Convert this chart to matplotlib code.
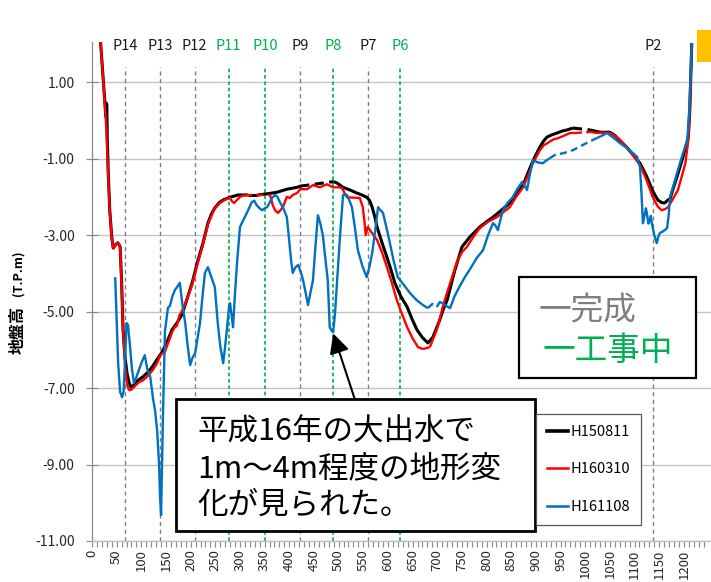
import numpy as np
import matplotlib
matplotlib.use("Agg")
import matplotlib.pyplot as plt
from matplotlib.patches import Rectangle
from matplotlib.lines import Line2D

plt.rcParams['font.family'] = ['Noto Sans CJK JP', 'DejaVu Sans']

# ---- survey profiles: distance (m) vs ground elevation (T.P.m) ----
black_x = [16, 22, 26, 28, 29, 30, 31, 33, 36, 40, 43, 48, 52, 55, 57, 60, 63, 67, 71, 75,
           79, 83, 87, 95, 103, 112, 122, 132, 142, 152, 162, 172, 182, 192, 203, 214, 225,
           235, 242, 249, 258, 266, 280, 296, 310, 316, 336, 355, 375, 395, 416, 422, 490,
           497, 509, 523, 537, 547, 557, 563, 568, 573, 578, 588, 598, 606, 614, 626, 639,
           649, 659, 670, 681, 686, 691, 698, 705, 712, 720, 735, 750, 766, 786, 800, 813,
           830, 847, 860, 874, 883, 892, 900, 908, 915, 922, 932, 943, 953, 963, 975, 1010,
           1030, 1050, 1060, 1072, 1084, 1097, 1111, 1124, 1137, 1147, 1155, 1161, 1168,
           1172, 1179, 1186, 1198, 1209, 1212, 1216]
black_y = [2.3, 1.2, 0.5, 0.1, 0.45, 0.42, -0.5, -1.4, -2.35, -3.05, -3.34, -3.25, -3.2, -3.25,
           -3.31, -4.2, -5.48, -6.2, -6.61, -6.85, -6.98, -6.95, -6.87, -6.78, -6.71, -6.6,
           -6.45, -6.25, -6.06, -5.8, -5.48, -5.3, -5.09, -4.7, -4.25, -3.7, -3.21, -2.69,
           -2.45, -2.29, -2.15, -2.08, -2.01, -1.95, -1.95, -1.95, -1.95, -1.92, -1.88, -1.8,
           -1.75, -1.72, -1.6, -1.64, -1.75, -1.82, -1.9, -1.95, -2.01, -2.1, -2.27, -2.5,
           -2.79, -3.2, -3.58, -3.9, -4.25, -4.6, -4.88, -5.2, -5.48, -5.68, -5.82, -5.75,
           -5.67, -5.45, -5.22, -4.95, -4.7, -3.95, -3.31, -3.05, -2.79, -2.65, -2.53, -2.35,
           -2.16, -1.95, -1.69, -1.4, -1.12, -0.9, -0.7, -0.55, -0.44, -0.38, -0.33, -0.28,
           -0.25, -0.2, -0.25, -0.31, -0.31, -0.39, -0.55, -0.7, -0.9, -1.12, -1.45, -1.85,
           -2.08, -2.15, -2.16, -2.08, -2.05, -1.75, -1.48, -0.96, -0.44, 0.27, 2.02]
black_gaps = [(316, 336), (422, 490), (975, 1010)]

red_x = [16, 22, 26, 28, 29, 30, 33, 36, 40, 43, 48, 52, 55, 57, 60, 63, 67, 71, 75, 79, 83,
         87, 95, 103, 112, 122, 132, 138, 142, 148, 152, 158, 162, 168, 172, 177, 182, 192,
         203, 214, 225, 235, 242, 249, 258, 266, 274, 280, 284, 288, 294, 300, 304, 310, 361,
         366, 371, 377, 382, 387, 395, 401, 407, 416, 422, 436, 448, 462, 476, 489, 500, 507,
         512, 517, 530, 543, 549, 552, 555, 559, 568, 578, 588, 598, 608, 618, 628, 639, 650,
         661, 671, 685, 692, 699, 705, 711, 720, 730, 740, 750, 760, 773, 786, 803, 821, 834,
         847, 860, 874, 884, 894, 901, 908, 916, 924, 935, 946, 957, 969, 979, 1010, 1024,
         1037, 1050, 1060, 1070, 1084, 1097, 1111, 1124, 1137, 1147, 1155, 1162, 1168, 1178,
         1188, 1196, 1203, 1209, 1212, 1216]
red_y = [2.3, 1.2, 0.4, 0.0, -0.2, -0.52, -1.5, -2.35, -3.1, -3.34, -3.25, -3.2, -3.25, -3.31,
         -4.3, -5.5, -6.4, -6.9, -7.05, -7.05, -7.0, -6.95, -6.85, -6.8, -6.7, -6.55, -6.35,
         -6.15, -6.1, -6.05, -5.9, -5.7, -5.55, -5.4, -5.38, -5.1, -5.0, -4.7, -4.3, -3.75,
         -3.25, -2.72, -2.5, -2.3, -2.18, -2.1, -2.05, -2.03, -2.12, -2.16, -2.08, -2.0,
         -1.98, -1.95, -1.95, -2.2, -2.35, -2.42, -2.35, -2.27, -2.0, -2.03, -1.95, -1.9,
         -1.8, -1.8, -1.69, -1.75, -1.67, -1.75, -1.75, -1.77, -1.9, -2.01, -2.02, -2.03,
         -2.27, -2.6, -3.0, -2.79, -2.95, -3.13, -3.45, -3.84, -4.25, -4.7, -5.05, -5.41,
         -5.7, -5.93, -5.98, -5.93, -5.7, -5.48, -5.2, -4.88, -4.5, -4.1, -3.7, -3.45, -3.31,
         -3.05, -2.82, -2.65, -2.53, -2.4, -2.27, -2.0, -1.75, -1.45, -1.12, -0.95, -0.78,
         -0.65, -0.59, -0.5, -0.46, -0.4, -0.33, -0.33, -0.3, -0.33, -0.32, -0.33, -0.4,
         -0.5, -0.7, -0.92, -1.17, -1.55, -2.01, -2.25, -2.35, -2.32, -2.27, -2.05, -1.82,
         -1.45, -1.12, -0.52, 0.27, 2.02]
red_gaps = [(310, 361), (671, 685), (979, 1010)]

blue_x = [47, 53, 57, 61, 64, 67, 70, 73, 77, 81, 85, 89, 93, 100, 107, 112, 118, 124, 128,
          132, 136, 138, 140, 142, 144, 148, 154, 158, 163, 168, 173, 178, 184, 189, 194, 199,
          204, 209, 214, 219, 224, 229, 235, 242, 249, 255, 260, 266, 270, 274, 278, 280, 283,
          286, 290, 294, 300, 307, 314, 320, 324, 329, 334, 340, 345, 350, 355, 360, 365, 371,
          376, 381, 388, 395, 398, 401, 404, 407, 412, 418, 423, 428, 433, 438, 443, 448, 453,
          458, 463, 468, 473, 478, 482, 486, 489, 493, 497, 503, 509, 517, 522, 527, 533, 539,
          548, 557, 563, 568, 574, 580, 585, 590, 597, 604, 612, 620, 632, 645, 658, 671, 681,
          690, 699, 705, 711, 718, 726, 735, 745, 756, 766, 780, 793, 803, 813, 818, 823, 828,
          833, 843, 853, 862, 872, 877, 882, 888, 894, 904, 914, 921, 928, 939, 955, 975, 1003,
          1024, 1034, 1044, 1057, 1070, 1084, 1097, 1105, 1111, 1114, 1117, 1120, 1123, 1125,
          1128, 1131, 1133, 1135, 1140, 1145, 1148, 1151, 1158, 1166, 1169, 1172, 1179, 1186,
          1196, 1207, 1211, 1216]
blue_y = [-4.1, -6.35, -7.1, -7.24, -7.1, -6.3, -5.3, -5.35, -5.9, -6.5, -6.87, -6.75, -6.6,
          -6.35, -6.14, -6.5, -6.7, -7.3, -7.6, -8.1, -9.0, -9.85, -10.32, -9.0, -7.65, -5.5,
          -4.9, -4.85, -4.6, -4.44, -4.35, -4.25, -4.88, -5.3, -5.9, -6.4, -6.2, -6.09, -5.7,
          -5.3, -4.6, -3.99, -3.84, -4.1, -4.36, -5.3, -5.9, -6.35, -5.9, -5.41, -4.85, -4.78,
          -5.1, -5.41, -4.5, -3.73, -2.79, -2.6, -2.42, -2.25, -2.14, -2.1, -2.22, -2.3, -2.35,
          -2.3, -2.27, -2.15, -2.03, -1.95, -2.0, -2.14, -2.3, -2.53, -2.9, -3.31, -3.7, -3.99,
          -3.85, -3.78, -3.95, -4.18, -4.5, -4.83, -4.5, -4.18, -3.3, -2.48, -2.7, -3.0, -3.6,
          -4.18, -5.41, -5.5, -5.54, -5.0, -4.18, -3.0, -1.95, -1.95, -2.1, -2.27, -2.8, -3.39,
          -3.8, -4.1, -3.8, -3.47, -2.9, -2.27, -2.35, -2.42, -2.8, -3.21, -3.7, -4.1, -4.3,
          -4.52, -4.7, -4.83, -4.91, -4.8, -4.88, -4.75, -4.78, -4.85, -4.91, -4.6, -4.35,
          -4.1, -3.9, -3.6, -3.39, -3.0, -2.69, -2.75, -2.87, -2.6, -2.35, -2.15, -2.01, -1.8,
          -1.61, -1.7, -1.82, -1.4, -1.04, -1.1, -1.12, -1.05, -0.99, -0.9, -0.86, -0.78,
          -0.59, -0.46, -0.4, -0.33, -0.45, -0.59, -0.72, -0.86, -0.95, -1.22, -1.9, -2.69,
          -2.5, -2.3, -2.42, -2.7, -2.61, -2.5, -2.69, -3.0, -3.21, -3.05, -2.95, -2.9, -2.82,
          -2.5, -2.01, -1.7, -1.38, -0.95, -0.52, 0.3, 2.02]
blue_gaps = [(681, 699), (928, 1024)]

series_labels = ['H150811', 'H160310', 'H161108']

# bridge piers along the profile; True = under construction
pier_names = ['P14', 'P13', 'P12', 'P11', 'P10', 'P9', 'P8', 'P7', 'P6', 'P2']
pier_x = [67, 138, 208, 277, 351, 422, 489, 559, 625, 1137]
pier_active = [False, False, False, True, True, False, True, False, True, False]

y_ticks = [-11, -9, -7, -5, -3, -1, 1]
x_ticks = list(range(0, 1201, 50))

GRAY = '#7F7F7F'
GREEN = '#00B050'

W, H = 711, 582
fig = plt.figure(figsize=(W / 100, H / 100), dpi=100)
ax = fig.add_axes([92 / W, 1 - 541 / H, (W - 92) / W, (541 - 42) / H])
ax.set_xlim(0, 1255)
ax.set_ylim(-11, 2.05)


def draw_series(xs, ys, gaps, color, lw, z):
    xs = np.asarray(xs, float)
    ys = np.asarray(ys, float)
    dashed = [any(a <= xs[i] and xs[i + 1] <= b for a, b in gaps) for i in range(len(xs) - 1)]
    start = 0
    for i in range(1, len(dashed) + 1):
        if i == len(dashed) or dashed[i] != dashed[start]:
            seg = slice(start, i + 1)
            style = (0, (3, 1.8)) if dashed[start] else '-'
            ax.plot(xs[seg], ys[seg], color=color, lw=lw, ls=style, zorder=z,
                    solid_joinstyle='round', solid_capstyle='butt')
            start = i


# pier reference lines and names
for name, px, active in zip(pier_names, pier_x, pier_active):
    col = GREEN if active else GRAY
    dash = (0, (2.2, 1.6)) if active else (0, (3, 2.5))
    ax.plot([px, px], [-11, 1.39], color=col, lw=1.2 if active else 1.0, ls=dash, zorder=2)
    ax.text(px, 1.94, name, ha='center', va='center', fontsize=10.5,
            color=GREEN if active else '#1A1A1A', zorder=4)

draw_series(black_x, black_y, black_gaps, 'black', 2.2, 5)
draw_series(red_x, red_y, red_gaps, '#FF0000', 1.7, 6)
draw_series(blue_x, blue_y, blue_gaps, '#0070C0', 1.7, 7)

# axes styling
ax.set_yticks(y_ticks)
ax.set_yticklabels([f'{v:.2f}' for v in y_ticks])
ax.set_xticks(x_ticks)
ax.set_xticks(range(0, 1250, 10), minor=True)
ax.tick_params(axis='x', which='both', direction='out', length=4, width=0.8,
               color='#888888', labelsize=9.5, labelcolor='#262626', pad=2,
               labelrotation=90)
ax.tick_params(axis='y', which='major', direction='inout', length=9, width=0.8,
               color='#888888', labelsize=10, labelcolor='#262626', pad=8)
ax.yaxis.grid(True, color='#C4C4C4', lw=1.0)
ax.set_axisbelow(True)
for s in ('top', 'right'):
    ax.spines[s].set_visible(False)
ax.spines['left'].set_color('#888888')
ax.spines['left'].set_linewidth(0.9)
ax.spines['bottom'].set_color('#BFBFBF')
ax.spines['bottom'].set_linewidth(1.0)

# y-axis title
fig.text(18 / W, 1 - 330 / H, '地盤高', rotation=90, ha='center', va='center',
         fontsize=11.5, fontweight='bold', color='black')
fig.text(18 / W, 1 - 273 / H, '(T.P.m)', rotation=90, ha='center', va='center',
         fontsize=9, fontweight='bold', color='black')

# arrow pointing at the scoured bed near P8
i_tip = int(np.argmin([y if 470 <= x <= 500 else 99 for x, y in zip(blue_x, blue_y)]))
ax.annotate('', xy=(blue_x[i_tip], blue_y[i_tip] - 0.03), xytext=(533, -7.3),
            arrowprops=dict(arrowstyle='-|>', color='black', lw=1.5,
                            mutation_scale=30, shrinkA=0, shrinkB=0), zorder=8)

# note box
fig.add_artist(Rectangle((176 / W, 1 - 531 / H), (535 - 176) / W, (531 - 399) / H,
                         transform=fig.transFigure, facecolor='white',
                         edgecolor='black', lw=2.0, zorder=10))
note_lines = ['平成16年の大出水で', '1m～4m程度の地形変', '化が見られた。']
for txt, py in zip(note_lines, [432, 469, 505]):
    fig.text(197 / W, 1 - py / H, txt, ha='left', va='center', fontsize=22,
             color='black', zorder=11)

# status key box
fig.add_artist(Rectangle((519 / W, 1 - 378 / H), (696 - 519) / W, (378 - 277) / H,
                         transform=fig.transFigure, facecolor='white',
                         edgecolor='black', lw=1.6, zorder=10))
fig.text(539 / W, 1 - 311 / H, '一完成', ha='left', va='center', fontsize=23.5,
         color=GRAY, zorder=11)
fig.text(543 / W, 1 - 351 / H, '一工事中', ha='left', va='center', fontsize=23.5,
         color=GREEN, zorder=11)

# legend
handles = [Line2D([], [], color='black', lw=2.6),
           Line2D([], [], color='#FF0000', lw=1.8),
           Line2D([], [], color='#0070C0', lw=1.8)]
leg = fig.legend(handles, series_labels, loc='upper left',
                 bbox_to_anchor=(536 / W, 1 - 414 / H), frameon=True, fancybox=False,
                 edgecolor='#595959', framealpha=1, fontsize=10.5, handlelength=1.45,
                 handletextpad=0.15, labelspacing=1.6, borderpad=0.75, borderaxespad=0)
leg.get_frame().set_linewidth(0.9)
leg.set_zorder(12)

# corner marker
fig.add_artist(Rectangle((697 / W, 1 - 62 / H), 14 / W, 32 / H,
                         transform=fig.transFigure, facecolor='#FFC000',
                         edgecolor='none', zorder=10))

fig.savefig('out.png', dpi=100)
